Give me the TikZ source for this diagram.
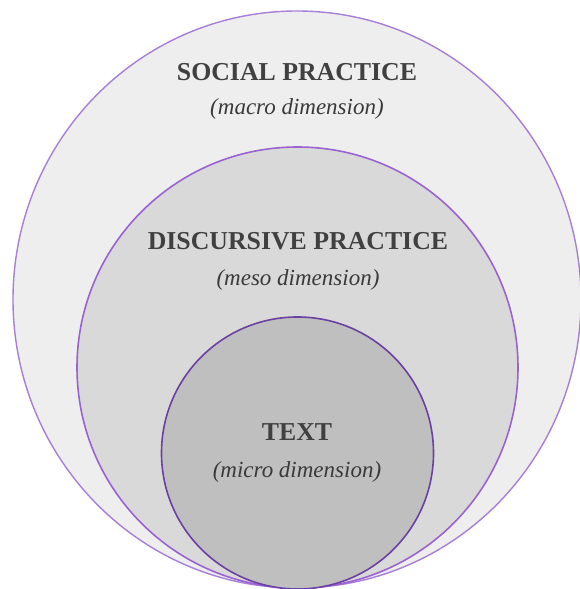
\documentclass[tikz,border=0pt]{standalone}
\usepackage{fontspec}
\setmainfont{Liberation Serif}
\definecolor{ringOuter}{HTML}{EEEEEE}
\definecolor{ringMid}{HTML}{D9D9D9}
\definecolor{ringInner}{HTML}{BFBFBF}
\definecolor{edgeOuter}{HTML}{A77FD6}
\definecolor{edgeMid}{HTML}{9A62D2}
\definecolor{edgeInner}{HTML}{6B40A3}
\definecolor{labelInk}{HTML}{404040}
\begin{document}
\begin{tikzpicture}[x=1pt,y=1pt,
  title/.style={font=\fontsize{25.8}{28}\selectfont\bfseries, text=labelInk, inner sep=0pt},
  subtitle/.style={font=\fontsize{23}{26}\selectfont\itshape, text=labelInk!90!black, inner sep=0pt}]
  \useasboundingbox (0,0) rectangle (580,589);
  \clip (0,0) rectangle (580,589);
  % nested levels of the model
  \filldraw[fill=ringOuter, draw=edgeOuter, line width=1.4pt] (297,289.5) ellipse [x radius=284, y radius=288.5];
  \filldraw[fill=ringMid, draw=edgeMid, line width=1.6pt] (297.5,221.5) circle [radius=220.5];
  \filldraw[fill=ringInner, draw=edgeInner, line width=1.6pt] (297.5,136) circle [radius=136];
  % labels
  \node[title] (social) at (297,517) {SOCIAL PRACTICE};
  \node[subtitle] (macro) at (297,480) {(macro dimension)};
  \node[title] (discursive) at (298,348) {DISCURSIVE PRACTICE};
  \node[subtitle] (meso) at (298,309) {(meso dimension)};
  \node[title] (text) at (297,157) {TEXT};
  \node[subtitle] (micro) at (297,117) {(micro dimension)};
\end{tikzpicture}
\end{document}
